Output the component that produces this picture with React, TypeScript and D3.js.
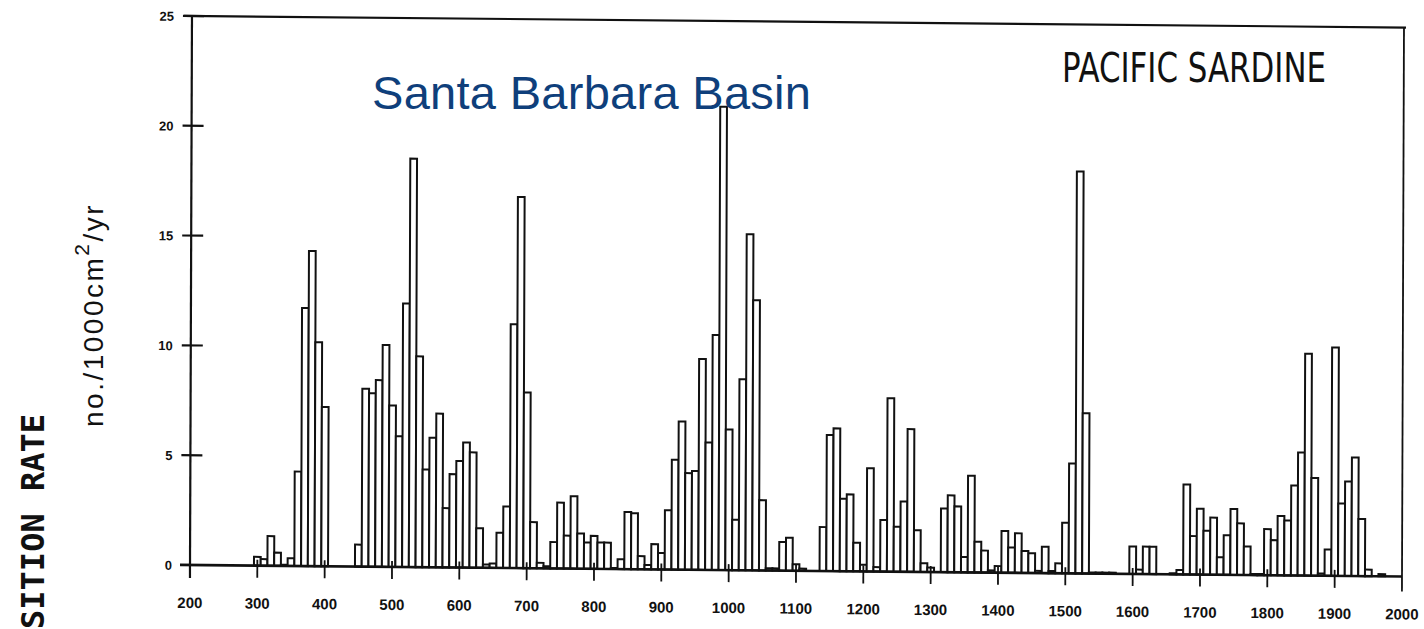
import { useEffect, useRef } from "react";
import * as d3 from "d3";

// decade bins, each centred on its year
const years = d3.range(300, 1980, 10);

// scale-deposition rate, no./1000cm2/yr, one row per century
const rates = [
  // 300s
  0.4, 0.3, 1.35, 0.6, 0.05, 0.35, 4.3, 11.75, 14.35, 10.2,
  // 400s
  7.25, 0, 0, 0, 0, 1.0, 8.1, 7.9, 8.5, 10.1,
  // 500s
  7.35, 5.95, 12.0, 18.6, 9.6, 4.45, 5.9, 7.0, 2.7, 4.25,
  // 600s
  4.85, 5.7, 5.25, 1.8, 0.15, 0.2, 1.6, 2.8, 11.1, 16.9,
  // 700s
  8.0, 2.1, 0.25, 0.1, 1.2, 3.0, 1.5, 3.3, 1.6, 1.2,
  // 800s
  1.5, 1.2, 1.2, 0.05, 0.45, 2.6, 2.55, 0.6, 0.2, 1.15,
  // 900s
  0.75, 2.7, 5.0, 6.75, 4.4, 4.5, 9.6, 5.8, 10.7, 21.1,
  // 1000s
  6.4, 2.3, 8.7, 15.3, 12.3, 3.2, 0.1, 0.1, 1.3, 1.5,
  // 1100s
  0.3, 0.1, 0, 0, 2.0, 6.2, 6.5, 3.3, 3.5, 1.3,
  // 1200s
  0.3, 4.7, 0.2, 2.35, 7.9, 2.05, 3.2, 6.5, 1.9, 0.4,
  // 1300s
  0.2, 0, 2.9, 3.5, 3.0, 0.7, 4.4, 1.4, 1.0, 0.1,
  // 1400s
  0.3, 1.9, 1.15, 1.8, 1.0, 0.9, 0.1, 1.2, 0.1, 0.45,
  // 1500s
  2.3, 5.0, 18.3, 7.3, 0.05, 0.05, 0.05, 0.05, 0, 0,
  // 1600s
  1.25, 0.2, 1.25, 1.25, 0, 0, 0.05, 0.2, 4.1, 1.75,
  // 1700s
  3.0, 2.0, 2.6, 0.8, 1.8, 3.0, 2.35, 1.3, 0.05, 0.05,
  // 1800s
  2.1, 1.6, 2.7, 2.5, 4.1, 5.6, 10.1, 4.45, 0.1, 1.2,
  // 1900s
  10.4, 3.3, 4.3, 5.4, 2.6, 0.3, 0, 0.1,
];

const xTicks = d3.range(200, 2001, 100);
const yTicks = [0, 5, 10, 15, 20, 25];

const App = () => {
  const ref = useRef<SVGSVGElement>(null);

  useEffect(() => {
    const svg = d3.select(ref.current);
    svg.selectAll("*").remove();

    const x = d3.scaleLinear().domain([200, 2000]).range([190, 1402]);
    const y = d3.scaleLinear().domain([0, 25]).range([565, 16]);

    // the scanned figure sits slightly skewed on the page
    const skewY = 0.0095;
    const skewX = -0.0036;
    const g = svg
      .append("g")
      .attr(
        "transform",
        `matrix(1, ${skewY}, ${skewX}, 1, ${-skewX * y(0)}, ${-skewY * x(200)})`
      );

    const bars = years
      .map((yr, i) => ({ yr, v: rates[i] }))
      .filter((d) => d.v > 0);

    g.selectAll("rect.bar")
      .data(bars)
      .join("rect")
      .attr("class", "bar")
      .attr("x", (d) => x(d.yr - 5))
      .attr("width", (d) => x(d.yr + 5) - x(d.yr - 5))
      .attr("y", (d) => y(d.v))
      .attr("height", (d) => y(0) - y(d.v))
      .attr("fill", "white")
      .attr("stroke", "#111")
      .attr("stroke-width", 2);

    // frame
    g.append("line")
      .attr("x1", x(200) - 8)
      .attr("x2", x(2000) + 2)
      .attr("y1", y(25))
      .attr("y2", y(25))
      .attr("stroke", "#111")
      .attr("stroke-width", 2.2);
    g.append("line")
      .attr("x1", x(2000))
      .attr("x2", x(2000))
      .attr("y1", y(25))
      .attr("y2", y(0) + 15)
      .attr("stroke", "#111")
      .attr("stroke-width", 1.8);
    g.append("line")
      .attr("x1", x(200))
      .attr("x2", x(200))
      .attr("y1", y(25))
      .attr("y2", y(0) + 13)
      .attr("stroke", "#111")
      .attr("stroke-width", 2.2);
    g.append("line")
      .attr("x1", x(200) - 10)
      .attr("x2", x(2000))
      .attr("y1", y(0))
      .attr("y2", y(0))
      .attr("stroke", "#111")
      .attr("stroke-width", 2.6);

    // y ticks
    g.selectAll("line.ytick")
      .data(yTicks.filter((t) => t > 0))
      .join("line")
      .attr("class", "ytick")
      .attr("x1", x(200) - 9)
      .attr("x2", x(200) + 12)
      .attr("y1", (d) => y(d))
      .attr("y2", (d) => y(d))
      .attr("stroke", "#111")
      .attr("stroke-width", 2.2);

    g.selectAll("text.ylab")
      .data(yTicks)
      .join("text")
      .attr("class", "ylab")
      .attr("x", 172)
      .attr("y", (d) => y(d) + 5)
      .attr("text-anchor", "end")
      .attr("font-family", "Liberation Sans, Arial, sans-serif")
      .attr("font-weight", "bold")
      .attr("font-size", 13)
      .attr("fill", "#111")
      .text((d) => d);

    // x ticks
    g.selectAll("line.xtick")
      .data(xTicks.filter((t) => t > 200 && t < 2000))
      .join("line")
      .attr("class", "xtick")
      .attr("x1", (d) => x(d))
      .attr("x2", (d) => x(d))
      .attr("y1", y(0) - 6)
      .attr("y2", y(0) + 12)
      .attr("stroke", "#111")
      .attr("stroke-width", 1.8);

    g.selectAll("text.xlab")
      .data(xTicks)
      .join("text")
      .attr("class", "xlab")
      .attr("x", (d) => x(d))
      .attr("y", y(0) + 43)
      .attr("text-anchor", "middle")
      .attr("font-family", "Liberation Sans, Arial, sans-serif")
      .attr("font-weight", "bold")
      .attr("font-size", 15)
      .attr("fill", "#111")
      .text((d) => d);

    // labels
    svg
      .append("text")
      .attr("x", 1062)
      .attr("y", 82)
      .attr("textLength", 264)
      .attr("lengthAdjust", "spacingAndGlyphs")
      .attr("font-family", "Liberation Sans Narrow, DejaVu Sans Condensed, sans-serif")
      .attr("font-size", 41)
      .attr("fill", "#111")
      .text("PACIFIC SARDINE");

    svg
      .append("text")
      .attr("x", 372)
      .attr("y", 109)
      .attr("textLength", 439)
      .attr("font-family", "Liberation Sans, Arial, sans-serif")
      .attr("font-size", 47)
      .attr("fill", "#0f3f7b")
      .text("Santa Barbara Basin");

    const unit = svg
      .append("text")
      .attr("transform", "translate(103, 427) rotate(-90)")
      .attr("font-family", "Liberation Sans, Arial, sans-serif")
      .attr("font-size", 28)
      .attr("letter-spacing", 2.5)
      .attr("fill", "#111");
    unit.append("tspan").text("no./1000cm");
    unit.append("tspan").attr("dy", -14).attr("font-size", 21).text("2");
    unit.append("tspan").attr("dy", 14).text("/yr");

    svg
      .append("text")
      .attr("transform", "translate(44, 414) rotate(-90)")
      .attr("text-anchor", "end")
      .attr("font-family", "DejaVu Sans Mono, monospace")
      .attr("font-weight", "bold")
      .attr("font-size", 32)
      .attr("word-spacing", 3)
      .attr("fill", "#111")
      .text("DEPOSITION RATE");
  }, []);

  return (
    <svg
      ref={ref}
      width={1424}
      height={629}
      style={{ position: "absolute", left: 0, top: 0, background: "white" }}
    />
  );
};

export default App;
